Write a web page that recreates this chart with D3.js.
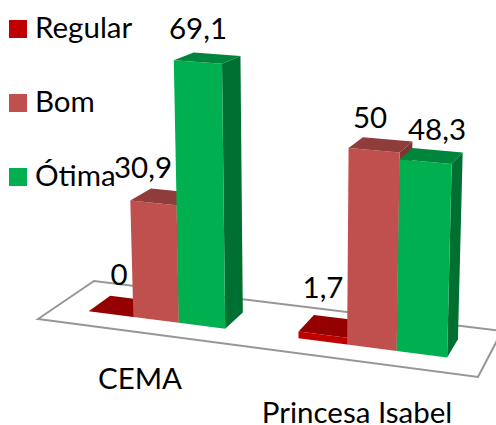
<!DOCTYPE html>
<html>
<head>
<meta charset="utf-8">
<script src="https://d3js.org/d3.v7.min.js"></script>
<style>
html,body{margin:0;padding:0;background:#fff}
svg{display:block}
text{font-family:Lato,"Open Sans",sans-serif;fill:#000}
</style>
</head>
<body>
<svg id="chart" width="496" height="425"></svg>
<script>
const categories = ["CEMA", "Princesa Isabel"];
const seriesNames = ["Regular", "Bom", "Ótima"];
const regular = [0, 1.7];
const bom = [30.9, 50];
const otima = [69.1, 48.3];
const seriesValues = [regular, bom, otima];

const frontColors = ["#C00000", "#C0504D", "#00B050"];
const topColors = ["#950000", "#903C3A", "#00853C"];
const sideColors = ["#7A0000", "#7D3432", "#006F32"];

const W = 496, H = 425, FONT = 29.5;
const svg = d3.select("#chart");

// Floor plane corners in screen space: front-left, front-right, back-right, back-left
const floor = [[38, 319], [478, 377], [502, 331], [94, 281]];

// Unit square to floor quad homography
const [[x0, y0], [x1, y1], [x2, y2], [x3, y3]] = floor;
const sx = x0 - x1 + x2 - x3, sy = y0 - y1 + y2 - y3;
const dx1 = x1 - x2, dx2 = x3 - x2, dy1 = y1 - y2, dy2 = y3 - y2;
const det = dx1 * dy2 - dx2 * dy1;
const g = (sx * dy2 - dx2 * sy) / det, h = (dx1 * sy - sx * dy1) / det;
const a = x1 - x0 + g * x1, b = x3 - x0 + h * x3;
const d = y1 - y0 + g * y1, e = y3 - y0 + h * y3;

// Scales over the floor's width (u), bar depth (v) and value height
const uGroup = d3.scaleBand().domain(categories).range([0, 1]).paddingInner(0.34).paddingOuter(0.165);
const uBar = d3.scaleBand().domain(seriesNames).range([0, uGroup.bandwidth()]);
const depth = d3.scaleLinear().domain([0, 1]).range([0.3, 0.7]);
const height = d3.scaleLinear().domain([0, 100]).range([0, 380]);

function project(u, v, value) {
  const w = g * u + h * v + 1;
  const bx = (a * u + b * v + x0) / w;
  const by = (d * u + e * v + y0) / w;
  const lift = height(value) / w;
  // Verticals fan out slightly around a vanishing point below the floor
  return [bx + (bx - 300) * lift * 0.00016, by - lift];
}

const pathOf = pts => "M" + pts.map(p => p.join(",")).join("L") + "Z";

svg.append("rect").attr("width", W).attr("height", H).attr("fill", "#fff");

svg.append("path")
  .attr("d", pathOf(floor))
  .attr("fill", "#fff")
  .attr("stroke", "#969696")
  .attr("stroke-width", 2);

// One record per bar, drawn series by series so nearer faces overlap correctly
const bars = [];
categories.forEach((cat, c) => {
  seriesNames.forEach((name, s) => {
    bars.push({cat, name, s, value: seriesValues[s][c]});
  });
});

const barGroups = svg.selectAll("g.bar").data(bars).join("g").attr("class", "bar");

barGroups.each(function(bar) {
  const group = d3.select(this);
  const u0 = uGroup(bar.cat) + uBar(bar.name);
  const u1 = u0 + uBar.bandwidth();
  const vf = depth(0), vb = depth(1);
  const z = bar.value;
  const top = [project(u0, vf, z), project(u1, vf, z), project(u1, vb, z), project(u0, vb, z)];
  const side = [project(u1, vf, 0), project(u1, vb, 0), project(u1, vb, z), project(u1, vf, z)];
  const front = [project(u0, vf, 0), project(u1, vf, 0), project(u1, vf, z), project(u0, vf, z)];
  group.append("path").attr("d", pathOf(side)).attr("fill", sideColors[bar.s]);
  group.append("path").attr("d", pathOf(front)).attr("fill", frontColors[bar.s]);
  group.append("path").attr("d", pathOf(top)).attr("fill", topColors[bar.s]);
});

// Value labels, placed by hand above each bar
const valueLabelPos = [
  [119, 285], [143, 178], [198, 39],
  [323, 298], [370, 128], [437, 140]
];
const fmt = v => String(v).replace(".", ",");
svg.selectAll("text.value").data(bars).join("text")
  .attr("class", "value")
  .attr("x", (_, i) => valueLabelPos[i][0])
  .attr("y", (_, i) => valueLabelPos[i][1])
  .attr("text-anchor", "middle")
  .attr("font-size", FONT)
  .text(d => fmt(d.value));

// Category names under the floor
const categoryLabelPos = [[140, 389], [357, 423]];
svg.selectAll("text.cat").data(categories).join("text")
  .attr("class", "cat")
  .attr("x", (_, i) => categoryLabelPos[i][0])
  .attr("y", (_, i) => categoryLabelPos[i][1])
  .attr("text-anchor", "middle")
  .attr("font-size", FONT)
  .text(d => d);

// Legend
const legendY = d3.scalePoint().domain(seriesNames).range([38, 186]);
const legend = svg.selectAll("g.legend").data(seriesNames).join("g").attr("class", "legend");
legend.append("rect")
  .attr("x", 9).attr("y", d => legendY(d) - 18)
  .attr("width", 18).attr("height", 18)
  .attr("fill", (_, i) => frontColors[i]);
legend.append("text")
  .attr("x", 35).attr("y", d => legendY(d))
  .attr("font-size", FONT)
  .text(d => d);
</script>
</body>
</html>
